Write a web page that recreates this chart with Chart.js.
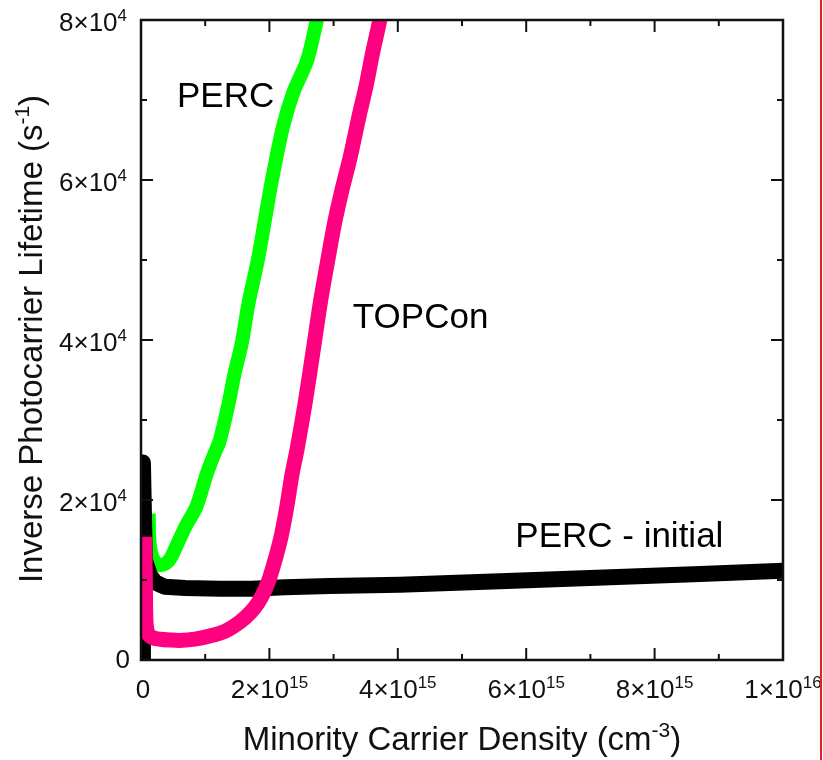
<!DOCTYPE html>
<html lang="en">
<head>
    <meta charset="UTF-8">
    <title>Inverse Photocarrier Lifetime</title>
    <script src="https://cdn.jsdelivr.net/npm/chart.js"></script>
    <style>
        body {
            margin: 0;
            background: #fff;
        }
        #wrap {
            width: 823px;
            height: 760px;
        }
    </style>
</head>
<body>
    <div id="wrap"><canvas id="lifetimeChart"></canvas></div>
    <script>
        // minority carrier density (cm^-3) and inverse lifetime (s^-1) per sample
        const percDensity = [0.12e15, 0.13e15, 0.17e15, 0.25e15, 0.34e15, 0.45e15, 0.56e15, 0.70e15, 0.86e15, 1.03e15, 1.15e15, 1.23e15, 1.36e15, 1.46e15, 1.57e15, 1.67e15, 1.82e15, 1.93e15, 2.04e15, 2.21e15, 2.37e15, 2.59e15, 2.74e15, 2.80e15];
        const percInvLife = [18300, 15000, 13000, 12000, 11900, 12600, 14400, 16800, 19100, 23400, 25900, 27500, 31900, 35900, 39600, 44400, 50000, 55000, 60000, 66600, 70900, 75000, 80000, 82000];

        const topconDensity = [0.06e15, 0.07e15, 0.08e15, 0.11e15, 0.18e15, 0.30e15, 0.45e15, 0.60e15, 0.84e15, 1.07e15, 1.31e15, 1.54e15, 1.70e15, 1.82e15, 1.93e15, 2.01e15, 2.17e15, 2.27e15, 2.35e15, 2.43e15, 2.56e15, 2.68e15, 2.80e15, 2.91e15, 3.01e15, 3.12e15, 3.26e15, 3.40e15, 3.51e15, 3.60e15, 3.72e15, 3.78e15];
        const topconInvLife = [15400, 8000, 4500, 3300, 2800, 2600, 2500, 2450, 2600, 3000, 3600, 4750, 5900, 7100, 8750, 10400, 15000, 19100, 23100, 26300, 32300, 38600, 45000, 50000, 54400, 58400, 62900, 68100, 71900, 75600, 80000, 82500];

        const initialDensity = [0.03e15, 0.03e15, 0.06e15, 0.14e15, 0.22e15, 0.37e15, 0.69e15, 1.23e15, 1.73e15, 2.24e15, 2.94e15, 4.03e15, 5.59e15, 6.99e15, 8.71e15, 10.0e15];
        const initialInvLife = [0, 24700, 12500, 10600, 9700, 9150, 9000, 8900, 8900, 9100, 9250, 9400, 9850, 10250, 10750, 11150];

        // axis ticks; '^' marks the exponent part of a label
        const xMajorTicks = [0, 2e15, 4e15, 6e15, 8e15, 1e16];
        const xTickLabels = ['0', '2×10^15', '4×10^15', '6×10^15', '8×10^15', '1×10^16'];
        const xMinorTicks = [1e15, 3e15, 5e15, 7e15, 9e15];
        const yMajorTicks = [0, 2e4, 4e4, 6e4, 8e4];
        const yTickLabels = ['0', '2×10^4', '4×10^4', '6×10^4', '8×10^4'];
        const yMinorTicks = [1e4, 3e4, 5e4, 7e4];

        const xTitle = 'Minority Carrier Density (cm^-3^)';
        const yTitle = 'Inverse Photocarrier Lifetime (s^-1^)';

        // curve names, anchored at data coordinates
        const curveNames = ['PERC', 'TOPCon', 'PERC - initial'];
        const curveNameX = [0.56e15, 3.30e15, 5.83e15];
        const curveNameY = [69100, 41500, 14100];

        const FONT = '"Liberation Sans", Arial, sans-serif';

        function toPoints(xs, ys) {
            return xs.map((x, i) => ({ x: x, y: ys[i] }));
        }

        // draws "base^sup^tail" with a raised, smaller exponent
        function drawSup(ctx, text, x, y, size, align) {
            const parts = text.split('^');
            const base = parts[0], sup = parts[1] || '', tail = parts[2] || '';
            const supSize = Math.round(size * 0.65);
            ctx.font = size + 'px ' + FONT;
            const wb = ctx.measureText(base).width;
            const wt = ctx.measureText(tail).width;
            ctx.font = supSize + 'px ' + FONT;
            const ws = ctx.measureText(sup).width;
            const total = wb + ws + wt;
            let x0 = x;
            if (align === 'center') x0 = x - total / 2;
            if (align === 'right') x0 = x - total;
            ctx.textAlign = 'left';
            ctx.textBaseline = 'alphabetic';
            ctx.font = size + 'px ' + FONT;
            ctx.fillText(base, x0, y);
            if (sup) {
                ctx.font = supSize + 'px ' + FONT;
                ctx.fillText(sup, x0 + wb, y - size * 0.38);
            }
            if (tail) {
                ctx.font = size + 'px ' + FONT;
                ctx.fillText(tail, x0 + wb + ws, y);
            }
        }

        function seg(ctx, x1, y1, x2, y2) {
            ctx.beginPath();
            ctx.moveTo(x1, y1);
            ctx.lineTo(x2, y2);
            ctx.stroke();
        }

        const framePlugin = {
            id: 'frameAndText',
            afterDatasetsDraw(chart) {
                const ctx = chart.ctx;
                const a = chart.chartArea;
                const xs = chart.scales.x, ys = chart.scales.y;
                ctx.save();
                ctx.strokeStyle = '#111';
                ctx.lineWidth = 2.5;
                ctx.strokeRect(a.left, a.top, a.right - a.left, a.bottom - a.top);

                // inward ticks on all four sides
                ctx.lineWidth = 2;
                xMajorTicks.forEach(v => {
                    const px = xs.getPixelForValue(v);
                    seg(ctx, px, a.bottom, px, a.bottom - 12);
                    seg(ctx, px, a.top, px, a.top + 12);
                });
                xMinorTicks.forEach(v => {
                    const px = xs.getPixelForValue(v);
                    seg(ctx, px, a.bottom, px, a.bottom - 6);
                    seg(ctx, px, a.top, px, a.top + 6);
                });
                yMajorTicks.forEach(v => {
                    const py = ys.getPixelForValue(v);
                    seg(ctx, a.left, py, a.left + 12, py);
                    seg(ctx, a.right, py, a.right - 12, py);
                });
                yMinorTicks.forEach(v => {
                    const py = ys.getPixelForValue(v);
                    seg(ctx, a.left, py, a.left + 6, py);
                    seg(ctx, a.right, py, a.right - 6, py);
                });

                ctx.fillStyle = '#111';
                xMajorTicks.forEach((v, i) => {
                    let px = xs.getPixelForValue(v);
                    if (i === 0) px += 2;
                    drawSup(ctx, xTickLabels[i], px, a.bottom + 38, 26, 'center');
                });
                yMajorTicks.forEach((v, i) => {
                    const py = ys.getPixelForValue(v);
                    const right = i === 0 ? a.left - 11 : a.left - 14;
                    drawSup(ctx, yTickLabels[i], right, py + (i === 0 ? 8 : 11), 26, 'right');
                });

                // axis titles
                drawSup(ctx, xTitle, 462, 750, 33, 'center');
                ctx.save();
                ctx.translate(42, 339);
                ctx.rotate(-Math.PI / 2);
                drawSup(ctx, yTitle, 0, 0, 33, 'center');
                ctx.restore();

                // curve names
                ctx.font = '35px ' + FONT;
                ctx.textAlign = 'left';
                ctx.fillStyle = '#000';
                curveNames.forEach((name, i) => {
                    ctx.fillText(name, xs.getPixelForValue(curveNameX[i]), ys.getPixelForValue(curveNameY[i]));
                });

                // red rule at the right edge of the page
                ctx.strokeStyle = 'rgb(228, 32, 32)';
                ctx.lineWidth = 2;
                seg(ctx, 821, 0, 821, chart.height);
                ctx.restore();
            }
        };

        const ctx = document.getElementById('lifetimeChart').getContext('2d');
        new Chart(ctx, {
            type: 'line',
            data: {
                datasets: [
                    {
                        label: 'TOPCon',
                        data: toPoints(topconDensity, topconInvLife),
                        borderColor: '#ff0080',
                        borderWidth: 15,
                        tension: 0.3,
                        order: 0
                    },
                    {
                        label: 'PERC - initial',
                        data: toPoints(initialDensity, initialInvLife),
                        borderColor: '#000000',
                        borderWidth: 16,
                        tension: 0,
                        order: 1
                    },
                    {
                        label: 'PERC',
                        data: toPoints(percDensity, percInvLife),
                        borderColor: '#00ff00',
                        borderWidth: 14,
                        tension: 0.3,
                        order: 2
                    }
                ]
            },
            options: {
                responsive: true,
                maintainAspectRatio: false,
                animation: false,
                layout: { padding: { left: 0, right: 40, top: 20, bottom: 0 } },
                elements: {
                    point: { radius: 0 },
                    line: { borderJoinStyle: 'round', fill: false }
                },
                datasets: { line: { clip: 0 } },
                plugins: {
                    legend: { display: false },
                    tooltip: { enabled: false }
                },
                scales: {
                    x: {
                        type: 'linear',
                        min: 0,
                        max: 1e16,
                        grid: { display: false },
                        border: { display: false },
                        ticks: { display: false },
                        afterFit: s => { s.height = 100; }
                    },
                    y: {
                        min: 0,
                        max: 8e4,
                        grid: { display: false },
                        border: { display: false },
                        ticks: { display: false },
                        afterFit: s => { s.width = 141; }
                    }
                }
            },
            plugins: [framePlugin]
        });
    </script>
</body>
</html>
